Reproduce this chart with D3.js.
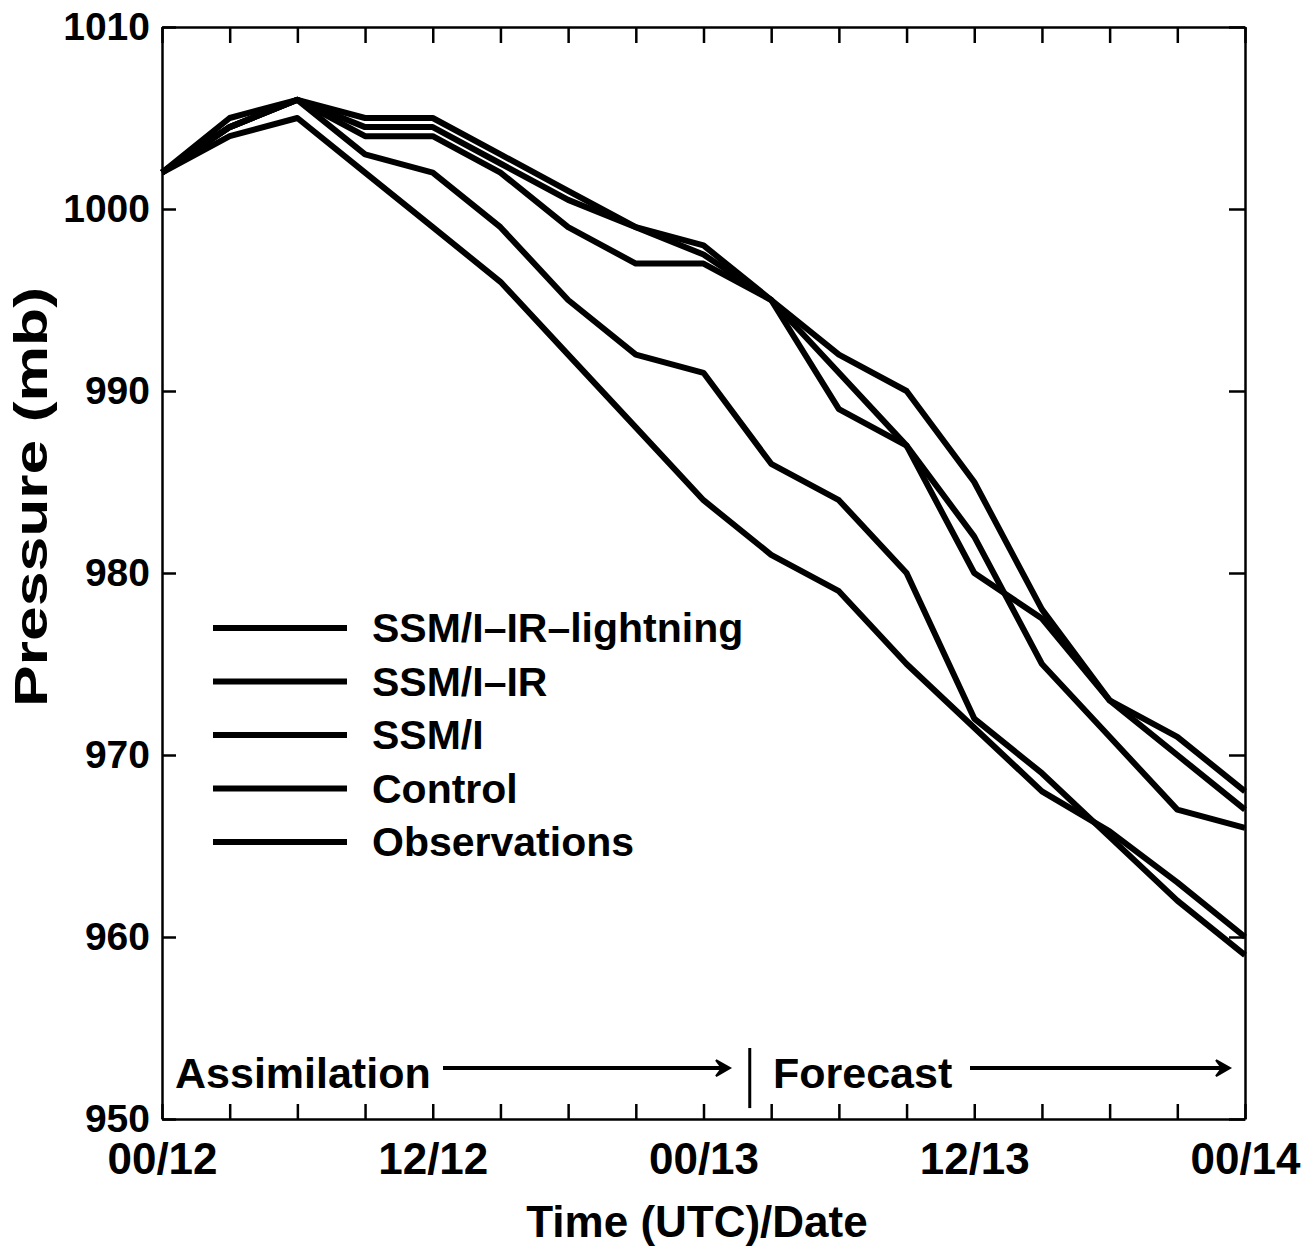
<!DOCTYPE html>
<html>
<head>
<meta charset="utf-8">
<script src="https://cdn.jsdelivr.net/npm/d3@7"></script>
<style>
  body { margin: 0; background: #fff; }
  svg { display: block; }
  text { font-family: "Liberation Sans", Arial, Helvetica, sans-serif; font-weight: bold; fill: #000; }
</style>
</head>
<body>
<div id="chart"></div>
<script>
// hours after 00 UTC on the 12th, one point every 3 h
const hours = [0, 3, 6, 9, 12, 15, 18, 21, 24, 27, 30, 33, 36, 39, 42, 45, 48];

// central pressure (mb)
const ssmiIrLightning = [1002, 1004.5, 1006, 1003, 1002, 999, 995, 992, 991, 986, 984, 980, 972, 969, 965.5, 962, 959];
const ssmiIr = [1002, 1004.5, 1006, 1004, 1004, 1002, 999, 997, 997, 995, 989, 987, 982, 975, 971, 967, 966];
const ssmi = [1002, 1004.5, 1006, 1004.5, 1004.5, 1002.5, 1000.5, 999, 997.5, 995, 991, 987, 980, 977.5, 973, 970, 967];
const control = [1002, 1005, 1006, 1005, 1005, 1003, 1001, 999, 998, 995, 992, 990, 985, 978, 973, 971, 968];
const observations = [1002, 1004, 1005, 1002, 999, 996, 992, 988, 984, 981, 979, 975, 971.5, 968, 965.8, 963, 960];

const seriesNames = ["SSM/I–IR–lightning", "SSM/I–IR", "SSM/I", "Control", "Observations"];
const seriesValues = [ssmiIrLightning, ssmiIr, ssmi, control, observations];

// axis ticks
const xTicks = [0, 3, 6, 9, 12, 15, 18, 21, 24, 27, 30, 33, 36, 39, 42, 45, 48];
const xTickLabels = {0: "00/12", 12: "12/12", 24: "00/13", 36: "12/13", 48: "00/14"};
const yTicks = [950, 960, 970, 980, 990, 1000, 1010];

// plot box inside the 1307 x 1248 page
const margin = {top: 27, right: 62, bottom: 129, left: 162},
    width = 1307 - margin.left - margin.right,
    height = 1248 - margin.top - margin.bottom;

let svg = d3.select("#chart")
    .append("svg")
    .attr("width", 1307)
    .attr("height", 1248);

let g = svg.append("g")
    .attr("transform", "translate(" + margin.left + "," + margin.top + ")");

let x = d3.scaleLinear().domain([0, 48]).range([0, width]);
let y = d3.scaleLinear().domain([950, 1010]).range([height, 0]);

// bottom axis, ticks pointing inwards
g.append("g")
    .attr("transform", "translate(0," + height + ")")
    .call(d3.axisBottom(x)
        .tickValues(xTicks)
        .tickSizeInner(-15)
        .tickSizeOuter(0)
        .tickPadding(24)
        .tickFormat(function(d) { return xTickLabels[d] || ""; }))
    .call(function(a) {
        a.selectAll("text").attr("font-size", 44).attr("font-family", null);
    });

// top axis, ticks only
g.append("g")
    .call(d3.axisTop(x)
        .tickValues(xTicks)
        .tickSizeInner(-16)
        .tickSizeOuter(0)
        .tickFormat(""));

// left axis
g.append("g")
    .call(d3.axisLeft(y)
        .tickValues(yTicks)
        .tickSizeInner(-14)
        .tickSizeOuter(0)
        .tickPadding(12)
        .tickFormat(d3.format("d")))
    .call(function(a) {
        a.selectAll("text").attr("font-size", 39).attr("font-family", null);
    });

// right axis, ticks only
g.append("g")
    .attr("transform", "translate(" + width + ",0)")
    .call(d3.axisRight(y)
        .tickValues(yTicks)
        .tickSizeInner(-16)
        .tickSizeOuter(0)
        .tickFormat(""));

g.selectAll(".domain").attr("stroke", "#000").attr("stroke-width", 2.5);
g.selectAll(".tick line").attr("stroke", "#000").attr("stroke-width", 2.5);

// the five pressure curves
const line = d3.line()
    .x(function(d, i) { return x(hours[i]); })
    .y(function(d) { return y(d); });

g.selectAll(".series")
    .data(seriesValues)
    .enter()
    .append("path")
    .attr("class", "series")
    .attr("fill", "none")
    .attr("stroke", "#000")
    .attr("stroke-width", 6)
    .attr("stroke-linejoin", "round")
    .attr("d", line);

// legend
let legend = g.append("g")
    .attr("transform", "translate(51,601)");

seriesNames.forEach(function(name, i) {
    legend.append("line")
        .attr("x1", 0).attr("x2", 134)
        .attr("y1", i * 53.5).attr("y2", i * 53.5)
        .attr("stroke", "#000")
        .attr("stroke-width", 6);
    legend.append("text")
        .attr("x", 159)
        .attr("y", i * 53.5 + 14)
        .attr("font-size", 41)
        .text(name);
});

// assimilation / forecast annotation
let note = g.append("g");
let arrowY = y(952.8);

note.append("text")
    .attr("x", 13).attr("y", y(951.7))
    .attr("font-size", 43)
    .text("Assimilation");
note.append("text")
    .attr("x", 611).attr("y", y(951.7))
    .attr("font-size", 43)
    .text("Forecast");

// vertical split between the two periods
note.append("line")
    .attr("x1", x(26.05)).attr("x2", x(26.05))
    .attr("y1", y(953.9)).attr("y2", y(950.6))
    .attr("stroke", "#000")
    .attr("stroke-width", 3);

[[281, 568], [808, 1068]].forEach(function(a) {
    note.append("line")
        .attr("x1", a[0]).attr("x2", a[1] - 4)
        .attr("y1", arrowY).attr("y2", arrowY)
        .attr("stroke", "#000")
        .attr("stroke-width", 4);
    note.append("path")
        .attr("d", "M" + (a[1] - 14) + "," + (arrowY - 8) + " L" + a[1] + "," + arrowY + " L" + (a[1] - 14) + "," + (arrowY + 8) + " L" + (a[1] - 8) + "," + arrowY + " Z")
        .attr("fill", "#000")
        .attr("stroke", "#000")
        .attr("stroke-width", 2);
});

// axis titles
svg.append("text")
    .attr("x", 697)
    .attr("y", 1237)
    .attr("text-anchor", "middle")
    .attr("font-size", 44)
    .text("Time (UTC)/Date");

svg.append("text")
    .attr("transform", "translate(47,497) rotate(-90)")
    .attr("text-anchor", "middle")
    .attr("font-size", 46)
    .attr("textLength", 420)
    .attr("lengthAdjust", "spacingAndGlyphs")
    .text("Pressure (mb)");
</script>
</body>
</html>
